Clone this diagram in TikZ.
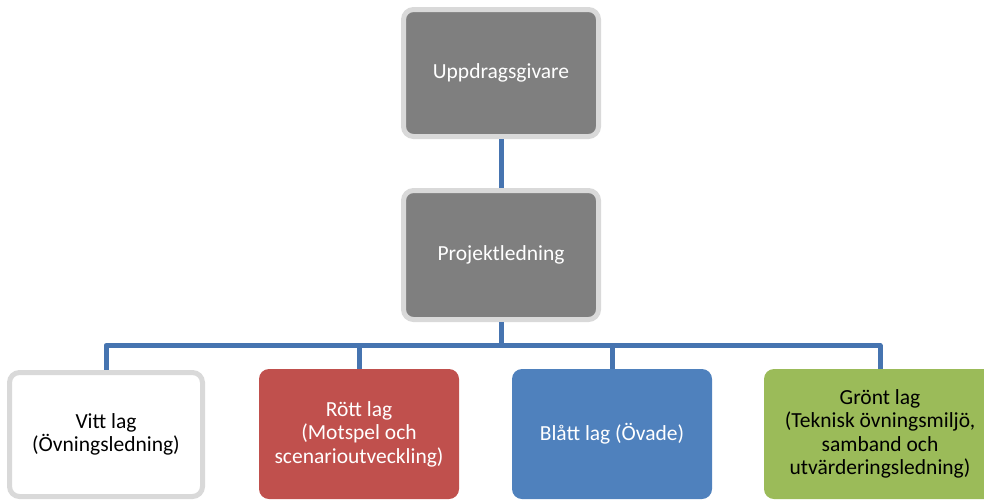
\documentclass[tikz,border=0pt]{standalone}
\usepackage{fontspec}
\setmainfont{Carlito}
\definecolor{boxgray}{HTML}{7F7F7F}
\definecolor{rimgray}{HTML}{D9D9D9}
\definecolor{teamred}{HTML}{C0504D}
\definecolor{teamblue}{HTML}{4F81BD}
\definecolor{teamgreen}{HTML}{9BBB59}
\definecolor{linkblue}{RGB}{70,116,176}
\tikzset{
    orgbox/.style={rectangle, rounded corners=10pt, align=center, inner sep=2pt,
        font=\fontsize{21.5}{23.5}\selectfont},
    headbox/.style={orgbox, draw=rimgray, line width=5pt, fill=boxgray, text=white,
        minimum width=195pt},
    teambox/.style={orgbox, minimum height=130pt},
    link/.style={draw=linkblue, line width=5pt, line join=round}
}
\begin{document}
\begin{tikzpicture}[x=1pt, y=-1pt]
\useasboundingbox (0,0) rectangle (984,501);
\clip (0,0) rectangle (984,501);

% top of the chart
\node[headbox, minimum height=127pt] (giver) at (501,73) {Uppdragsgivare};
\node[headbox, minimum height=129pt] (lead) at (501,255) {Projektledning};

% the four teams
\node[teambox, draw=rimgray, line width=5pt, fill=white, minimum width=193pt,
    minimum height=124pt] (vitt) at (106,434.5) {Vitt lag\\(Övningsledning)};
\node[teambox, fill=teamred, text=white, minimum width=200pt] (rott) at (359,434)
    {Rött lag\\(Motspel och\\scenarioutveckling)};
\node[teambox, fill=teamblue, text=white, minimum width=200pt] (blatt) at (612,434)
    {Blått lag (Övade)};
\node[teambox, fill=teamgreen, minimum width=232pt] (gront) at (880,434)
    {Grönt lag\\(Teknisk övningsmiljö,\\samband och\\utvärderingsledning)};

\coordinate (bus) at (501,345.5);

\draw[link] (giver) -- (lead);
\foreach \team in {vitt,rott,blatt,gront}
{
    \draw[link] (lead.south) -- (lead.south |- bus) -| (\team.north);
}
\end{tikzpicture}
\end{document}
